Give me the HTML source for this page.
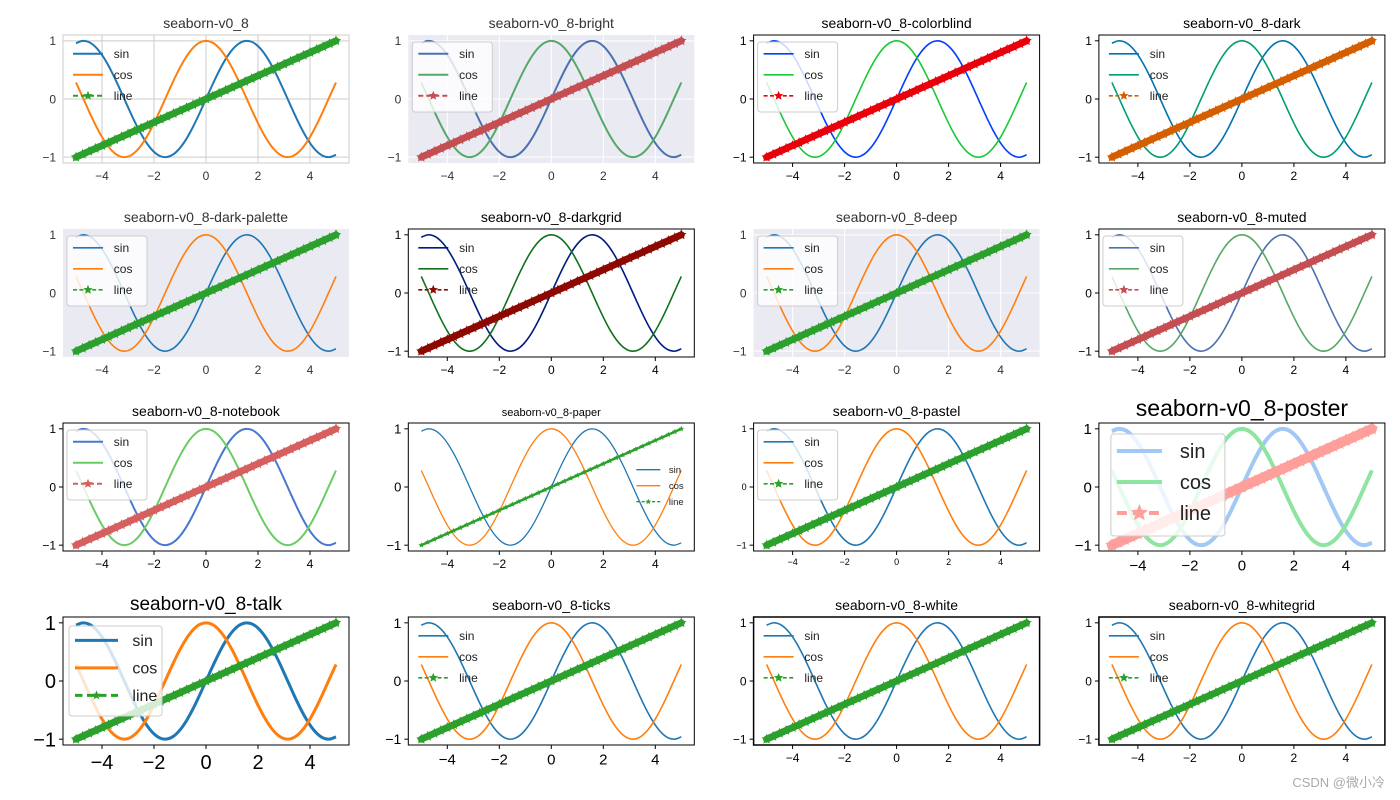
<!DOCTYPE html>
<html><head><meta charset="utf-8"><style>
html,body{margin:0;padding:0;background:#fff;width:1400px;height:800px;overflow:hidden}
svg{display:block;font-family:"Liberation Sans","Noto Sans CJK SC",sans-serif}
</style></head><body>
<svg id="fig" width="1400" height="800" viewBox="0 0 1400 800"></svg>
<script>
const xs=[-5,-4.75,-4.5,-4.25,-4,-3.75,-3.5,-3.25,-3,-2.75,-2.5,-2.25,-2,-1.75,-1.5,-1.25,-1,-0.75,-0.5,-0.25,0,0.25,0.5,0.75,1,1.25,1.5,1.75,2,2.25,2.5,2.75,3,3.25,3.5,3.75,4,4.25,4.5,4.75,5];
const sinVals=[0.959,0.999,0.978,0.895,0.757,0.572,0.351,0.108,-0.141,-0.382,-0.598,-0.778,-0.909,-0.984,-0.997,-0.949,-0.841,-0.682,-0.479,-0.247,0,0.247,0.479,0.682,0.841,0.949,0.997,0.984,0.909,0.778,0.598,0.382,0.141,-0.108,-0.351,-0.572,-0.757,-0.895,-0.978,-0.999,-0.959];
const cosVals=[0.284,0.038,-0.211,-0.446,-0.654,-0.821,-0.936,-0.994,-0.990,-0.924,-0.801,-0.628,-0.416,-0.178,0.071,0.315,0.540,0.732,0.878,0.969,1,0.969,0.878,0.732,0.540,0.315,0.071,-0.178,-0.416,-0.628,-0.801,-0.924,-0.990,-0.994,-0.936,-0.821,-0.654,-0.446,-0.211,0.038,0.284];
const lineVals=[-1,-0.95,-0.9,-0.85,-0.8,-0.75,-0.7,-0.65,-0.6,-0.55,-0.5,-0.45,-0.4,-0.35,-0.3,-0.25,-0.2,-0.15,-0.1,-0.05,0,0.05,0.1,0.15,0.2,0.25,0.3,0.35,0.4,0.45,0.5,0.55,0.6,0.65,0.7,0.75,0.8,0.85,0.9,0.95,1];
const seriesNames=["sin","cos","line"];
const xTicks=[-4,-2,0,2,4];
const yTicks=[-1,0,1];
const styleNames=["seaborn-v0_8","seaborn-v0_8-bright","seaborn-v0_8-colorblind","seaborn-v0_8-dark","seaborn-v0_8-dark-palette","seaborn-v0_8-darkgrid","seaborn-v0_8-deep","seaborn-v0_8-muted","seaborn-v0_8-notebook","seaborn-v0_8-paper","seaborn-v0_8-pastel","seaborn-v0_8-poster","seaborn-v0_8-talk","seaborn-v0_8-ticks","seaborn-v0_8-white","seaborn-v0_8-whitegrid"];

const TAB=["#1f77b4","#ff7f0e","#2ca02c"];
const ST=[
 {bg:"#fff",grid:"#cccccc",border:"#cccccc",c:TAB,lw:2,title:14,tick:12,leg:"plain",tcol:"#333"},
 {bg:"#eaeaf2",grid:"#fff",border:null,c:["#4c72b0","#55a868","#c44e52"],lw:2,title:14,tick:12,leg:"frame",tcol:"#333"},
 {bg:"#fff",grid:null,border:"#000",c:["#023eff","#1ac938","#e8000b"],lw:1.6,title:14,tick:12,leg:"frame",tcol:"#000",ticks:1},
 {bg:"#fff",grid:null,border:"#000",c:["#0173b2","#029e73","#d55e00"],lw:1.6,title:14,tick:12,leg:"plain",tcol:"#000",ticks:1},
 {bg:"#eaeaf2",grid:null,border:null,c:TAB,lw:1.6,title:14,tick:12,leg:"frame",tcol:"#333"},
 {bg:"#fff",grid:null,border:"#000",c:["#001c7f","#12711c","#8c0800"],lw:1.6,title:14,tick:12,leg:"plain",tcol:"#000",ticks:1},
 {bg:"#eaeaf2",grid:"#fff",border:null,c:TAB,lw:1.6,title:14,tick:12,leg:"frame",tcol:"#333"},
 {bg:"#fff",grid:null,border:"#000",c:["#4c72b0","#55a868","#c44e52"],lw:1.6,title:14,tick:12,leg:"frame",tcol:"#000",ticks:1},
 {bg:"#fff",grid:null,border:"#000",c:["#4878d0","#6acc64","#d65f5f"],lw:2,title:14,tick:12,leg:"frame",tcol:"#000",ticks:1},
 {bg:"#fff",grid:null,border:"#000",c:TAB,lw:1.3,title:11,tick:12,leg:"paper",tcol:"#000",ticks:1,star:6,band:2.5},
 {bg:"#fff",grid:null,border:"#000",c:TAB,lw:1.6,title:14,tick:9,leg:"frame",tcol:"#000",ticks:1},
 {bg:"#fff",grid:null,border:"#000",c:["#a1c9f4","#8de5a1","#ff9f9b"],lw:4,title:23,tick:15,leg:"poster",tcol:"#000",ticks:1,star:14,band:10},
 {bg:"#fff",grid:null,border:"#000",c:TAB,lw:3,title:19,tick:20,leg:"talk",tcol:"#000",ticks:1},
 {bg:"#fff",grid:null,border:"#000",c:TAB,lw:1.6,title:14,tick:15,leg:"plain",tcol:"#000",ticks:1},
 {bg:"#fff",grid:null,border:"#000",c:TAB,lw:1.6,title:14,tick:12,leg:"plain",tcol:"#000",ticks:1,bw:1.5},
 {bg:"#fff",grid:null,border:"#000",c:TAB,lw:1.6,title:14,tick:12,leg:"plain",tcol:"#000",ticks:1,bw:1.5}
];
const NS="http://www.w3.org/2000/svg";
const fig=document.getElementById("fig");
function mk(tag,attrs,parent){const e=document.createElementNS(NS,tag);for(const k in attrs)e.setAttribute(k,attrs[k]);(parent||fig).appendChild(e);return e;}
function fmt(v){return v<0?"\u2212"+(-v):String(v);}
function smooth(pts){let d="M"+pts[0][0]+","+pts[0][1];for(let i=0;i<pts.length-1;i++){const p0=pts[Math.max(0,i-1)],p1=pts[i],p2=pts[i+1],p3=pts[Math.min(pts.length-1,i+2)];d+=" C"+(p1[0]+(p2[0]-p0[0])/6)+","+(p1[1]+(p2[1]-p0[1])/6)+" "+(p2[0]-(p3[0]-p1[0])/6)+","+(p2[1]-(p3[1]-p1[1])/6)+" "+p2[0]+","+p2[1];}return d;}
function starPts(cx,cy,r){let s=[];for(let k=0;k<10;k++){const a=-Math.PI/2+k*Math.PI/5,rr=k%2?r*0.45:r;s.push((cx+rr*Math.cos(a)).toFixed(1)+","+(cy+rr*Math.sin(a)).toFixed(1));}return s.join(" ");}

styleNames.forEach((name,i)=>{
 const s=ST[i];const col=i%4,row=Math.floor(i/4);
 const L=63+col*345.3,T=35+row*194,W=286,H=128;
 const X=v=>L+(v+5.5)/11*W, Y=v=>T+(1.1-v)/2.2*H;
 const g=mk("g",{});
 
 
 const bgR=mk("rect",{x:L,y:T,width:W,height:H,fill:s.bg},g);
 
 
 if(s.grid){xTicks.forEach(t=>mk("line",{x1:X(t),x2:X(t),y1:T,y2:T+H,stroke:s.grid,"stroke-width":1},g));yTicks.forEach(t=>mk("line",{x1:L,x2:L+W,y1:Y(t),y2:Y(t),stroke:s.grid,"stroke-width":1},g));}
 const clipId="c"+i;const cp=mk("clipPath",{id:clipId},g);mk("rect",{x:L-10,y:T-10,width:W+20,height:H+20},cp);
 const data=[sinVals,cosVals,lineVals];
 data.forEach((vals,j)=>{
  const pts=xs.map((x,k)=>[+X(x).toFixed(2),+Y(vals[k]).toFixed(2)]);
  if(j===2){const band=mk("path",{d:smooth(pts),fill:"none",stroke:s.c[2],"stroke-width":s.band||7,"stroke-linecap":"round"},g);}
  const p=mk("path",{d:smooth(pts),fill:"none",stroke:s.c[j],"stroke-width":s.lw,"clip-path":"url(#"+clipId+")"},g);
  
  
  if(j===2){const r=(s.star||11)/2;pts.forEach(q=>{const st=mk("polygon",{points:starPts(q[0],q[1],r),fill:s.c[2]},g);});}
 });
 if(s.border){const b=mk("rect",{x:L,y:T,width:W,height:H,fill:"none",stroke:s.border,"stroke-width":s.bw||1},g);}
 const tk=s.tick, xs2=(i===13?15:tk), ys2=(i===13?14:(i===10?9:(i===9?13:tk)));
 const xfs=(i===10?9:(i===9?12:xs2));
 xTicks.forEach(t=>{
  if(s.ticks)mk("line",{x1:X(t),x2:X(t),y1:T+H,y2:T+H+4,stroke:"#000"},g);
  const e=mk("text",{x:X(t),y:T+H+6+xfs*0.9,"text-anchor":"middle","font-size":xfs,fill:s.tcol},g);e.textContent=fmt(t);
 });
 yTicks.forEach(t=>{
  if(s.ticks)mk("line",{x1:L-4,x2:L,y1:Y(t),y2:Y(t),stroke:"#000"},g);
  const e=mk("text",{x:L-7,y:Y(t)+ys2*0.36,"text-anchor":"end","font-size":ys2,fill:s.tcol},g);e.textContent=fmt(t);
  
 });
 const ti=mk("text",{x:L+W/2,y:T-7,"text-anchor":"middle","font-size":s.title,fill:i<1||i===1||i===4||i===6?"#333":"#000"},g);ti.textContent=name;
 
 let lx,ly,dy,fs,hl,fr=false,bw,bh;
 if(s.leg==="plain"||s.leg==="frame"){lx=L+10;ly=T+23;dy=21;fs=12;hl=30;fr=s.leg==="frame";bw=80;bh=70;}
 if(s.leg==="poster"){lx=L+18;ly=T+35;dy=31;fs=20;hl=45;fr=true;bw=114;bh=102;}
 if(s.leg==="talk"){lx=L+12;ly=T+29;dy=27.5;fs=16;hl=43;fr=true;bw=93;bh=90;}
 if(s.leg==="paper"){lx=W+L-58;ly=T+50;dy=16;fs=9.5;hl=24;fr=false;}
 const lg=mk("g",{},g);
 
 if(fr)mk("rect",{x:lx-6,y:ly-fs-4,width:bw,height:bh,rx:3,fill:"#fff","fill-opacity":0.8,stroke:"#ccc"},lg);
 seriesNames.forEach((n,j)=>{
  const yy=ly+j*dy-fs*0.35;
  mk("line",{x1:lx,x2:lx+hl,y1:yy,y2:yy,stroke:s.c[j],"stroke-width":s.lw,"stroke-dasharray":j===2?(s.lw*2.5)+","+(s.lw*1.5):"none"},lg);
  if(j===2)mk("polygon",{points:starPts(lx+hl/2,yy,(s.star||10)/2+(s.leg==="poster"?2:0)),fill:s.c[2]},lg);
  const t=mk("text",{x:lx+hl+fs*0.9,y:ly+j*dy,"font-size":fs,fill:"#222"},lg);t.textContent=n;
  
 });
});
const wm=mk("text",{x:1385,y:787,"text-anchor":"end","font-size":13,fill:"#aaa"});wm.textContent="CSDN @微小冷";

</script>
</body></html>
